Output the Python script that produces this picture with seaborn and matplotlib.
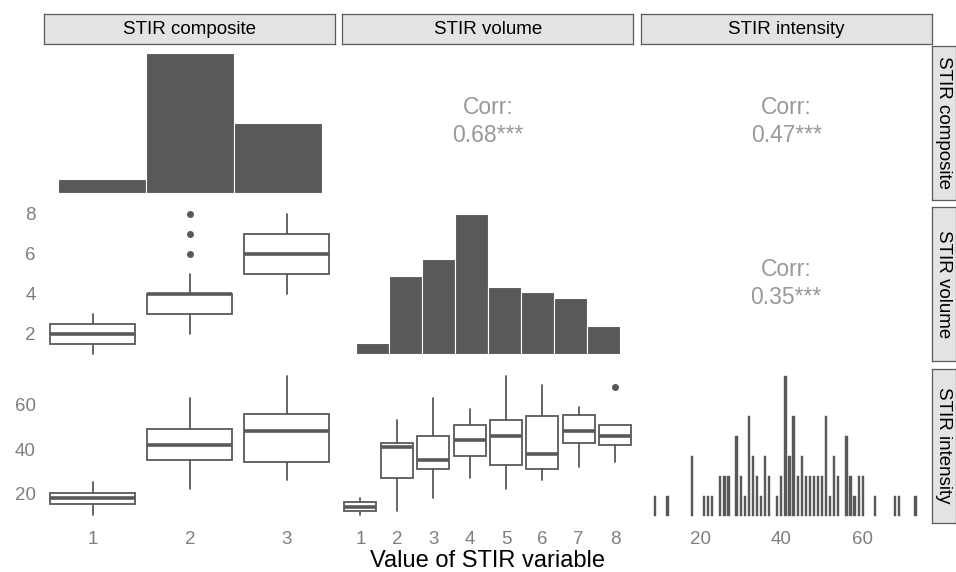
import matplotlib
matplotlib.use("Agg")
import matplotlib.pyplot as plt
import seaborn as sns

variables = ['STIR composite', 'STIR volume', 'STIR intensity']

# diagonal: distributions
composite_levels = [1, 2, 3]
composite_counts = [6, 60, 30]
volume_levels = [1, 2, 3, 4, 5, 6, 7, 8]
volume_counts = [2, 14, 17, 25, 12, 11, 10, 5]
intensity_values = [9, 12, 18, 21, 22, 23, 25, 26, 27, 29, 30, 31, 32, 33, 34, 35, 36, 37,
                    39, 40, 41, 42, 43, 44, 45, 46, 47, 48, 49, 50, 51, 52, 53, 54,
                    56, 57, 58, 59, 60, 63, 68, 69, 73]
intensity_counts = [1, 1, 3, 1, 1, 1, 2, 2, 2, 4, 2, 1, 5, 3, 2, 1, 3, 2,
                    1, 2, 7, 3, 5, 2, 3, 2, 2, 2, 2, 2, 5, 1, 3, 2,
                    4, 2, 1, 2, 2, 1, 1, 1, 1]

# lower triangle: box summaries [low whisker, q1, median, q3, high whisker]
volume_by_composite = [[1, 1.5, 2, 2.5, 3], [2, 3, 4, 4, 5], [4, 5, 6, 7, 8]]
volume_by_composite_out = [[], [6, 7, 8], []]
intensity_by_composite = [[10, 15, 18, 20, 25], [22, 35, 42, 49, 63], [26, 34, 48, 56, 73]]
intensity_by_composite_out = [[], [], []]
intensity_by_volume = [[10, 12, 14, 16, 18], [12, 27, 41, 43, 53], [18, 31, 35, 46, 63],
                       [27, 37, 44, 51, 58], [22, 33, 46, 53, 73], [26, 31, 38, 55, 69],
                       [32, 43, 48, 55.5, 59], [34, 42, 46, 51, 51]]
intensity_by_volume_out = [[], [], [], [], [], [], [], [68]]

# upper triangle: correlations
corr_cells = [(0, 1), (0, 2), (1, 2)]
corr_labels = ['0.68***', '0.47***', '0.35***']

x_ticks = [[1, 2, 3], [1, 2, 3, 4, 5, 6, 7, 8], [20, 40, 60]]
y_ticks = [None, [2, 4, 6, 8], [20, 40, 60]]

sns.set_theme(style='white')
plt.rcParams['font.family'] = ['Liberation Sans', 'DejaVu Sans']

W, H = 956, 572
fig = plt.figure(figsize=(W / 100, H / 100), dpi=100)

col_left = [44.3, 342.3, 640.7]
col_w = 291
row_top = [45.5, 207, 368.5]
row_h = 154

DARK = '#595959'
TICK = '#7f7f7f'


def panel(r, c):
    ax = fig.add_axes([col_left[c] / W, 1 - (row_top[r] + row_h) / H, col_w / W, row_h / H])
    for s in ax.spines.values():
        s.set_visible(False)
    ax.tick_params(length=0, labelsize=13.5, labelcolor=TICK, pad=6)
    ax.set_xticks([])
    ax.set_yticks([])
    return ax


def boxes(ax, summaries, outliers, positions):
    stats = []
    for s, o in zip(summaries, outliers):
        stats.append(dict(whislo=s[0], q1=s[1], med=s[2], q3=s[3], whishi=s[4], fliers=o))
    ax.bxp(stats, positions=positions, widths=0.88, patch_artist=True, showcaps=False,
           boxprops=dict(facecolor='white', edgecolor=DARK, linewidth=1.3),
           medianprops=dict(color=DARK, linewidth=2.6),
           whiskerprops=dict(color=DARK, linewidth=1.3),
           flierprops=dict(marker='o', markerfacecolor=DARK, markeredgecolor=DARK, markersize=4))


axes = [[panel(r, c) for c in range(3)] for r in range(3)]

# diagonal
ax = axes[0][0]
sns.histplot(x=composite_levels, weights=composite_counts, discrete=True, ax=ax,
             color=DARK, edgecolor='white', linewidth=0.8, alpha=1)
ax.set_xlim(0.35, 3.65)
ax.set_ylim(-0.05 * max(composite_counts), 1.05 * max(composite_counts))

ax = axes[1][1]
sns.histplot(x=volume_levels, weights=volume_counts, discrete=True, ax=ax,
             color=DARK, edgecolor='white', linewidth=0.8, alpha=1)
ax.set_xlim(0.1, 8.9)
ax.set_ylim(-0.05 * max(volume_counts), 1.05 * max(volume_counts))

ax = axes[2][2]
sns.histplot(x=intensity_values, weights=intensity_counts, discrete=True, shrink=0.55, ax=ax,
             color=DARK, edgecolor=DARK, linewidth=0.3, alpha=1)
for p in list(ax.patches):
    if p.get_height() == 0:
        p.remove()
ax.set_xlim(5.42, 76.96)
ax.set_ylim(-0.05 * max(intensity_counts), 1.05 * max(intensity_counts))

# lower triangle
boxes(axes[1][0], volume_by_composite, volume_by_composite_out, composite_levels)
axes[1][0].set_xlim(0.5, 3.5)
axes[1][0].set_ylim(0.65, 8.35)
boxes(axes[2][0], intensity_by_composite, intensity_by_composite_out, composite_levels)
axes[2][0].set_xlim(0.5, 3.5)
boxes(axes[2][1], intensity_by_volume, intensity_by_volume_out, volume_levels)
axes[2][1].set_xlim(0.5, 8.5)
for c in range(2):
    axes[2][c].set_ylim(6.8, 76.5)

# upper triangle
for (r, c), lab in zip(corr_cells, corr_labels):
    ax = axes[r][c]
    ax.set_xlim(0, 1)
    ax.set_ylim(0, 1)
    ax.text(0.5, 0.5 + 15 / row_h, 'Corr:', ha='center', va='center', fontsize=16.5, color='#999999')
    ax.text(0.5, 0.5 - 13 / row_h, lab, ha='center', va='center', fontsize=16.5, color='#999999')

for r in range(3):
    for c in range(3):
        ax = axes[r][c]
        ax.set_xlabel('')
        ax.set_ylabel('')
        ax.set_xticks([])
        ax.set_yticks([])
        if r == 2:
            ax.set_xticks(x_ticks[c])
            ax.set_xticklabels([str(t) for t in x_ticks[c]])
        if c == 0 and y_ticks[r] is not None:
            ax.set_yticks(y_ticks[r])
            ax.set_yticklabels([str(t) for t in y_ticks[r]])

# strips
for c, name in enumerate(variables):
    s = fig.add_axes([col_left[c] / W, 1 - 44 / H, col_w / W, 30 / H])
    s.set_facecolor('#e3e3e3')
    s.set_xticks([])
    s.set_yticks([])
    for sp in s.spines.values():
        sp.set_color('#5a5a5a')
        sp.set_linewidth(0.9)
    s.text(0.5, 0.5, name, ha='center', va='center', fontsize=13.5, color='black', transform=s.transAxes)

for r, name in enumerate(variables):
    s = fig.add_axes([932 / W, 1 - (row_top[r] + row_h) / H, 23.5 / W, row_h / H])
    s.set_facecolor('#e3e3e3')
    s.set_xticks([])
    s.set_yticks([])
    for sp in s.spines.values():
        sp.set_color('#5a5a5a')
        sp.set_linewidth(0.9)
    s.text(0.5, 0.5, name, ha='center', va='center', rotation=-90, fontsize=13.5, color='black',
           transform=s.transAxes)

fig.text(488 / W, 1 - 561 / H, 'Value of STIR variable', ha='center', va='center', fontsize=17, color='black')

fig.savefig('out.png', dpi=100)
